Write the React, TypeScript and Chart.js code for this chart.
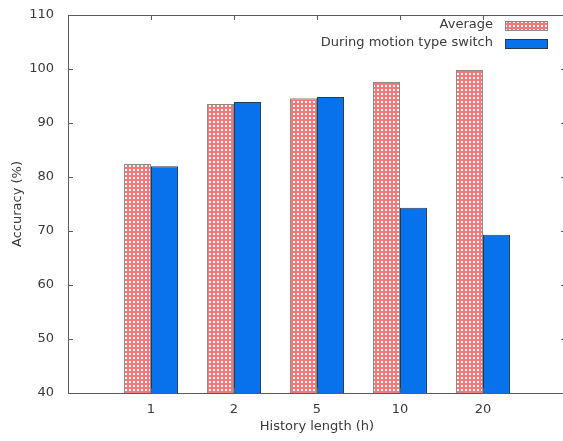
import React, { useEffect, useRef } from "react";
import { Chart, registerables } from "chart.js";

Chart.register(...registerables);

const categories = ["1", "2", "5", "10", "20"];
const seriesNames = ["Average", "During motion type switch"];
const averageValues = [82.4, 93.5, 94.6, 97.6, 99.8];
const switchValues = [82.0, 93.9, 94.8, 74.3, 69.3];
const yTicks = [40, 50, 60, 70, 80, 90, 100, 110];

const FONT = "'DejaVu Sans', sans-serif";
const FS = 13;
const TEXT = "#3a3a3a";
const AXIS = "#5a5a5a";

function makePattern(): CanvasPattern | string {
  const c = document.createElement("canvas");
  c.width = 4;
  c.height = 4;
  const g = c.getContext("2d");
  if (!g) return "#f4a0a0";
  g.fillStyle = "#f4787a";
  g.fillRect(0, 0, 4, 4);
  g.fillStyle = "#ffffff";
  g.fillRect(1, 1, 2, 2);
  const p = g.createPattern(c, "repeat");
  return p || "#f4a0a0";
}

const framePlugin = {
  id: "frame",
  afterDatasetsDraw(chart: any) {
    const { ctx, chartArea } = chart;
    const { left, right, top, bottom } = chartArea;
    const xs = chart.scales.x;
    const ys = chart.scales.y;
    ctx.save();
    ctx.strokeStyle = AXIS;
    ctx.lineWidth = 1;
    ctx.beginPath();
    ctx.rect(left + 0.5, top + 0.5, right - left, bottom - top);
    ctx.stroke();
    const tl = 5;
    ctx.beginPath();
    yTicks.forEach((v) => {
      const y = Math.round(ys.getPixelForValue(v)) + 0.5;
      ctx.moveTo(left, y);
      ctx.lineTo(left + tl, y);
      ctx.moveTo(right, y);
      ctx.lineTo(right - tl, y);
    });
    categories.forEach((_, i) => {
      const x = Math.round(xs.getPixelForValue(i)) + 0.5;
      ctx.moveTo(x, top);
      ctx.lineTo(x, top + tl);
      ctx.moveTo(x, bottom);
      ctx.lineTo(x, bottom - tl);
    });
    ctx.stroke();

    // legend inside plot, top right
    const textRight = 493;
    const swLeft = 505;
    const swW = 42;
    const swH = 9;
    const rows = [25, 43];
    ctx.font = `${FS}px ${FONT}`;
    ctx.textAlign = "right";
    ctx.textBaseline = "middle";
    chart.data.datasets.forEach((ds: any, i: number) => {
      const y = rows[i];
      ctx.fillStyle = TEXT;
      ctx.fillText(ds.label, textRight, y);
      ctx.fillStyle = ds.backgroundColor;
      ctx.fillRect(swLeft, Math.round(y - swH / 2), swW, swH);
      ctx.strokeStyle = ds.borderColor;
      ctx.lineWidth = 1;
      ctx.strokeRect(swLeft + 0.5, Math.round(y - swH / 2) + 0.5, swW, swH);
    });
    ctx.restore();
  },
};

export default function App() {
  const ref = useRef<HTMLCanvasElement>(null);

  useEffect(() => {
    document.documentElement.style.overflow = "hidden";
    document.body.style.overflow = "hidden";
    const canvas = ref.current;
    if (!canvas) return;
    const pattern = makePattern();
    const chart = new Chart(canvas, {
      type: "bar",
      data: {
        datasets: [
          {
            label: seriesNames[0],
            data: averageValues.map((v, i) => ({ x: i, y: v })),
            backgroundColor: pattern as any,
            borderColor: "#8a8a8a",
            borderWidth: 1,
            barPercentage: 1,
            categoryPercentage: 0.65,
          },
          {
            label: seriesNames[1],
            data: switchValues.map((v, i) => ({ x: i, y: v })),
            backgroundColor: "#0872ec",
            borderColor: "#2b3a4a",
            borderWidth: 1,
            barPercentage: 1,
            categoryPercentage: 0.65,
          },
        ],
      },
      options: {
        animation: false,
        responsive: false,
        maintainAspectRatio: false,
        layout: { padding: { top: 15, right: 14, left: 0, bottom: 0 } },
        plugins: {
          legend: { display: false },
          tooltip: { enabled: false },
        },
        scales: {
          x: {
            type: "linear",
            min: -1,
            max: 5,
            offset: false,
            grid: { display: false, offset: false },
            border: { display: false },
            ticks: {
              stepSize: 1,
              autoSkip: false,
              maxRotation: 0,
              padding: 1,
              color: TEXT,
              font: { family: FONT, size: FS },
              callback: (v: any) => categories[v as number] ?? "",
            },
            title: {
              display: true,
              text: "History length (h)",
              color: TEXT,
              font: { family: FONT, size: FS },
              padding: { top: 4, bottom: 7 },
            },
            afterFit: (s: any) => {
              s.height = 48;
            },
          },
          y: {
            min: 40,
            max: 110,
            grid: { display: false },
            border: { display: false },
            ticks: {
              stepSize: 10,
              padding: 6,
              color: TEXT,
              font: { family: FONT, size: FS },
            },
            title: {
              display: true,
              text: "Accuracy (%)",
              color: TEXT,
              font: { family: FONT, size: FS },
              padding: { top: 10, bottom: 0 },
            },
            afterFit: (s: any) => {
              s.width = 68;
            },
          },
        },
      } as any,
      plugins: [framePlugin],
    });
    return () => chart.destroy();
  }, []);

  return (
    <div style={{ position: "fixed", left: 0, top: 0, width: 580, height: 441, background: "#fff" }}>
      <canvas ref={ref} width={580} height={441} style={{ width: 580, height: 441, display: "block" }} />
    </div>
  );
}
